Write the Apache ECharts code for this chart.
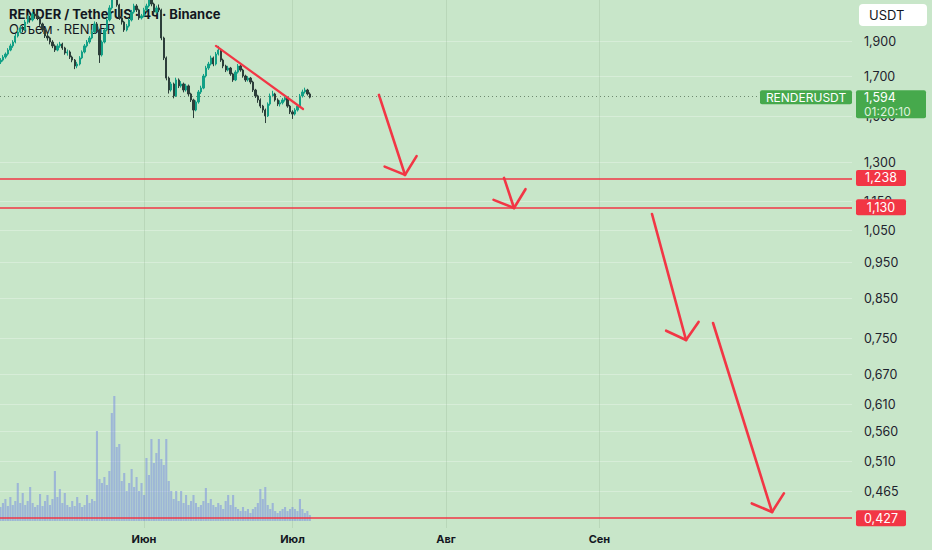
<!DOCTYPE html>
<html><head><meta charset="utf-8">
<script src="https://cdn.jsdelivr.net/npm/echarts@6/dist/echarts.min.js"></script>
<style>html,body{margin:0;padding:0;background:#c8e6c9;}#c{width:932px;height:550px;}</style>
</head><body><div id="c"></div>
<script>
// ---- data ----
const candleStart = '2025-05-03 00:00';
const candleStepHours = 12;
const opens = [
1.779,1.790,1.807,1.824,1.847,1.871,1.894,1.930,1.954,1.979,
1.967,2.016,2.042,2.029,2.067,2.055,2.042,2.004,1.967,1.930,
1.918,1.894,1.871,1.847,1.871,1.882,1.859,1.830,1.836,1.807,
1.790,1.757,1.768,1.802,1.836,1.871,1.894,1.918,1.954,2.004,
1.967,1.819,1.894,1.967,2.029,2.107,2.174,2.215,2.127,2.042,
2.016,1.967,1.991,2.029,2.080,2.120,2.094,2.042,2.055,2.094,
2.120,2.160,2.133,2.080,2.107,2.094,1.918,1.802,1.692,1.630,
1.661,1.600,1.682,1.651,1.661,1.630,1.651,1.610,1.580,1.531,
1.570,1.620,1.640,1.703,1.746,1.768,1.802,1.768,1.824,1.847,
1.790,1.757,1.735,1.746,1.714,1.682,1.724,1.757,1.735,1.703,
1.682,1.692,1.671,1.630,1.600,1.580,1.550,1.531,1.503,1.560,
1.600,1.610,1.580,1.560,1.566,1.580,1.590,1.550,1.522,1.512,
1.531,1.550,1.600,1.620,1.630,1.610];
const closes = [
1.790,1.807,1.824,1.847,1.871,1.894,1.930,1.954,1.979,1.967,
2.016,2.042,2.029,2.067,2.055,2.042,2.004,1.967,1.930,1.918,
1.894,1.871,1.847,1.871,1.882,1.859,1.830,1.836,1.807,1.790,
1.757,1.768,1.802,1.836,1.871,1.894,1.918,1.954,2.004,1.967,
1.819,1.894,1.967,2.029,2.107,2.174,2.215,2.127,2.042,2.016,
1.967,1.991,2.029,2.080,2.120,2.094,2.042,2.055,2.094,2.120,
2.160,2.133,2.080,2.107,2.094,1.918,1.802,1.692,1.630,1.661,
1.600,1.682,1.651,1.661,1.630,1.651,1.610,1.580,1.531,1.570,
1.620,1.640,1.703,1.746,1.768,1.802,1.768,1.824,1.847,1.790,
1.757,1.735,1.746,1.714,1.682,1.724,1.757,1.735,1.703,1.682,
1.692,1.671,1.630,1.600,1.580,1.550,1.531,1.503,1.560,1.600,
1.610,1.580,1.560,1.566,1.580,1.590,1.550,1.522,1.512,1.531,
1.550,1.600,1.620,1.630,1.610,1.594];
const lows = [
1.768,1.782,1.798,1.815,1.840,1.860,1.886,1.921,1.945,1.952,
1.960,2.005,2.012,2.020,2.040,2.028,1.992,1.955,1.918,1.902,
1.880,1.858,1.836,1.840,1.860,1.848,1.820,1.815,1.796,1.778,
1.740,1.745,1.760,1.795,1.828,1.862,1.884,1.910,1.945,1.955,
1.774,1.810,1.886,1.958,2.020,2.096,2.160,2.115,2.030,2.000,
1.955,1.958,1.982,2.020,2.070,2.080,2.030,2.032,2.046,2.085,
2.110,2.118,2.068,2.070,2.080,1.905,1.790,1.680,1.612,1.622,
1.588,1.595,1.640,1.642,1.618,1.622,1.600,1.570,1.493,1.525,
1.562,1.610,1.634,1.695,1.736,1.760,1.756,1.760,1.816,1.780,
1.745,1.724,1.728,1.704,1.672,1.676,1.716,1.726,1.694,1.672,
1.674,1.660,1.620,1.590,1.566,1.540,1.518,1.470,1.498,1.552,
1.594,1.572,1.550,1.548,1.558,1.572,1.542,1.512,1.489,1.505,
1.524,1.544,1.592,1.612,1.602,1.588];
const highs = [
1.801,1.818,1.833,1.858,1.884,1.905,1.942,1.968,1.995,1.990,
2.030,2.058,2.055,2.082,2.080,2.066,2.050,2.012,1.978,1.944,
1.926,1.905,1.880,1.884,1.895,1.890,1.866,1.850,1.845,1.815,
1.796,1.780,1.812,1.845,1.882,1.906,1.930,1.968,2.020,2.016,
1.975,1.904,1.978,2.042,2.125,2.195,2.240,2.230,2.135,2.055,
2.024,2.004,2.040,2.094,2.135,2.132,2.102,2.068,2.108,2.135,
2.180,2.175,2.142,2.122,2.130,2.102,1.926,1.810,1.700,1.672,
1.668,1.694,1.690,1.676,1.668,1.662,1.658,1.616,1.586,1.578,
1.630,1.652,1.714,1.758,1.780,1.815,1.810,1.836,1.871,1.856,
1.798,1.764,1.758,1.752,1.720,1.734,1.768,1.764,1.742,1.710,
1.702,1.698,1.678,1.636,1.606,1.588,1.556,1.538,1.568,1.612,
1.626,1.616,1.588,1.578,1.590,1.602,1.596,1.556,1.530,1.540,
1.560,1.610,1.632,1.642,1.636,1.618];
const volumes = [
14,18,22,15,24,16,20,38,18,28,
16,20,34,18,14,16,27,15,20,26,
16,22,50,24,32,18,28,16,14,20,
15,24,18,14,16,26,18,22,20,90,
42,38,44,36,50,108,125,74,77,40,
48,30,38,52,34,44,30,38,26,63,
46,82,58,68,82,62,56,82,40,30,
22,30,20,30,18,26,16,20,26,18,
14,16,20,33,18,22,16,14,18,16,
12,20,26,16,26,14,12,10,14,10,
12,8,12,14,18,32,22,34,16,12,
18,10,8,10,12,14,10,12,14,12,
10,22,12,8,10,6];
const volumeMax = 141;
const priceTicks = [1.9,1.7,1.5,1.3,1.15,1.05,0.95,0.85,0.75,0.67,0.61,0.56,0.51,0.465];
const monthTicks = ['2025-06-01 00:00','2025-07-01 00:00','2025-08-01 00:00','2025-09-01 00:00'];
const monthLabels = ['Июн','Июл','Авг','Сен'];
const levels = [1.238, 1.130, 0.427];
const lastPrice = 1.594;
const countdown = '01:20:10';
const symbolName = 'RENDERUSDT';
const trendLine = [['2025-06-15 13:00', 1.871], ['2025-07-03 03:00', 1.536]];
const arrows = [
  [['2025-07-18 11:00', 1.605], ['2025-07-23 17:30', 1.250]],
  [['2025-08-12 17:30', 1.238], ['2025-08-14 18:00', 1.127]],
  [['2025-09-11 15:00', 1.106], ['2025-09-18 12:00', 0.7457]],
  [['2025-09-23 23:00', 0.7865], ['2025-10-05 21:00', 0.4355]]
];
const xRange = ['2025-05-02 21:49', '2025-10-22 00:40'];
const yRange = [0.4142, 2.160];
const titleText = 'RENDER / TetherUS · 4ч · Binance';
const subTitleText = 'Объем · RENDER';
const currencyText = 'USDT';

// ---- helpers ----
function ts(s){const [d,t]=s.split(' ');const [Y,M,D]=d.split('-').map(Number);const [h,m]=(t||'00:00').split(':').map(Number);return Date.UTC(Y,M-1,D,h,m);}
const fmt = p => p.toFixed(3).replace('.', ',');
const RED = '#f23645', GREEN = '#46a94c', FONT = 'Inter, Roboto, sans-serif';
const t0 = ts(candleStart), step = candleStepHours*3600000;
const candleData = opens.map((o,i)=>[t0+i*step, Math.log(o), Math.log(closes[i]), Math.log(lows[i]), Math.log(highs[i])]);
const volData = volumes.map((v,i)=>[t0+i*step, v]);
const monthTs = monthTicks.map(ts);
const xMin = ts(xRange[0]), xMax = ts(xRange[1]);
const lnTicks = priceTicks.map(Math.log);

const drawData = [[ts(trendLine[0][0]), Math.log(trendLine[0][1]), ts(trendLine[1][0]), Math.log(trendLine[1][1]), 0]]
  .concat(arrows.map(a=>[ts(a[0][0]), Math.log(a[0][1]), ts(a[1][0]), Math.log(a[1][1]), 1]));
const tagData = levels.map(v=>[xMax, Math.log(v), 0]).concat([[xMax, Math.log(lastPrice), 1]]);

const chart = echarts.init(document.getElementById('c'), null, {renderer:'svg'});
chart.setOption({
  animation:false,
  backgroundColor:'#c8e6c9',
  textStyle:{fontFamily:FONT},
  grid:[{left:0,right:80,top:0,bottom:22},{left:0,right:80,top:380,bottom:29}],
  xAxis:[
    {type:'value',gridIndex:0,min:xMin,max:xMax,
     axisLine:{show:false},
     axisTick:{show:false,customValues:monthTs},
     splitLine:{show:true,lineStyle:{color:'rgba(140,170,140,0.25)',width:1}},
     axisLabel:{customValues:monthTs,margin:5,fontSize:11,fontWeight:'bold',color:'#131722',fontFamily:FONT,
       formatter:v=>{const i=monthTs.findIndex(t=>Math.abs(t-v)<3600000);return i>=0?monthLabels[i]:'';}}},
    {type:'value',gridIndex:1,min:xMin,max:xMax,show:false}
  ],
  yAxis:[
    {type:'value',gridIndex:0,position:'right',min:Math.log(yRange[0]),max:Math.log(yRange[1]),
     axisLine:{show:false},
     axisTick:{show:false,customValues:lnTicks},
     splitLine:{show:true,lineStyle:{color:'rgba(255,255,255,0.28)',width:1}},
     axisLabel:{customValues:lnTicks,margin:12,fontSize:12.5,color:'#1e222d',fontFamily:FONT,
       formatter:v=>fmt(Math.exp(v))}},
    {type:'value',gridIndex:1,min:0,max:volumeMax,show:false}
  ],
  graphic:[
    {type:'text',left:9,top:7,z:0,style:{text:titleText,font:'bold 13px '+FONT,fill:'#131722'}},
    {type:'text',left:9,top:22,z:0,style:{text:subTitleText,font:'13px '+FONT,fill:'#131722'}},
    {type:'rect',left:859,top:4,z:10,shape:{width:68,height:22,r:4},style:{fill:'#ffffff'}},
    {type:'text',left:869,top:8,z:11,style:{text:currencyText,font:'13px '+FONT,fill:'#131722'}}
  ],
  series:[
    {type:'bar',name:'Объем',xAxisIndex:1,yAxisIndex:1,data:volData,barWidth:2.1,
     itemStyle:{color:'rgba(105,125,230,0.45)'},silent:true},
    {type:'candlestick',name:'RENDERUSDT',xAxisIndex:0,yAxisIndex:0,data:candleData,
     encode:{x:0,y:[1,2,3,4]},barWidth:1.8,clip:true,
     itemStyle:{color:'#12a086',color0:'#2c3e3a',borderColor:'#12a086',borderColor0:'#2c3e3a',borderWidth:1},
     markLine:{silent:true,symbol:['none','none'],label:{show:false},animation:false,
       data:levels.map(v=>({yAxis:Math.log(v),lineStyle:{color:RED,width:1.6,type:'solid'}}))
         .concat([{yAxis:Math.log(lastPrice),lineStyle:{color:'#6f8a70',width:1,type:[1,3]}}])}},
    {type:'custom',name:'drawings',xAxisIndex:0,yAxisIndex:0,data:drawData,encode:{x:[0,2],y:[1,3]},silent:true,z:4,
     renderItem:(params,api)=>{
       const p1=api.coord([api.value(0),api.value(1)]), p2=api.coord([api.value(2),api.value(3)]);
       const head=api.value(4);
       const st={stroke:RED,lineWidth:head?2.6:2.2,lineCap:'round'};
       const ch=[{type:'line',shape:{x1:p1[0],y1:p1[1],x2:p2[0],y2:p2[1]},style:st}];
       if(head){const ang=Math.atan2(p1[1]-p2[1],p1[0]-p2[0]);
         [-1,1].forEach(s=>{const a=ang+s*0.87;ch.push({type:'line',shape:{x1:p2[0],y1:p2[1],x2:p2[0]+22*Math.cos(a),y2:p2[1]+22*Math.sin(a)},style:st});});}
       return {type:'group',children:ch};
     }},
    {type:'custom',name:'tags',xAxisIndex:0,yAxisIndex:0,data:tagData,encode:{x:0,y:1},silent:true,z:6,
     renderItem:(params,api)=>{
       const cs=params.coordSys, right=cs.x+cs.width;
       const y=api.coord([api.value(0),api.value(1)])[1];
       const txt=fmt(Math.exp(api.value(1)));
       if(api.value(2)===0){
         return {type:'group',children:[
           {type:'rect',shape:{x:right+4,y:y-8,width:50,height:16,r:2},style:{fill:RED}},
           {type:'text',style:{x:right+29,y:y,text:txt,fill:'#ffffff',font:'12.5px '+FONT,align:'center',verticalAlign:'middle'}}]};
       }
       return {type:'group',children:[
         {type:'rect',shape:{x:right-92,y:y-7,width:92,height:14,r:2},style:{fill:GREEN}},
         {type:'text',style:{x:right-46,y:y,text:symbolName,fill:'#ffffff',font:'12px '+FONT,align:'center',verticalAlign:'middle'}},
         {type:'rect',shape:{x:right+4,y:y-7,width:70,height:28,r:2},style:{fill:GREEN}},
         {type:'text',style:{x:right+12,y:y,text:txt,fill:'#ffffff',font:'12.5px '+FONT,align:'left',verticalAlign:'middle'}},
         {type:'text',style:{x:right+12,y:y+14,text:countdown,fill:'#dcf1dc',font:'12px '+FONT,align:'left',verticalAlign:'middle'}}]};
     }}
  ]
});
</script></body></html>
